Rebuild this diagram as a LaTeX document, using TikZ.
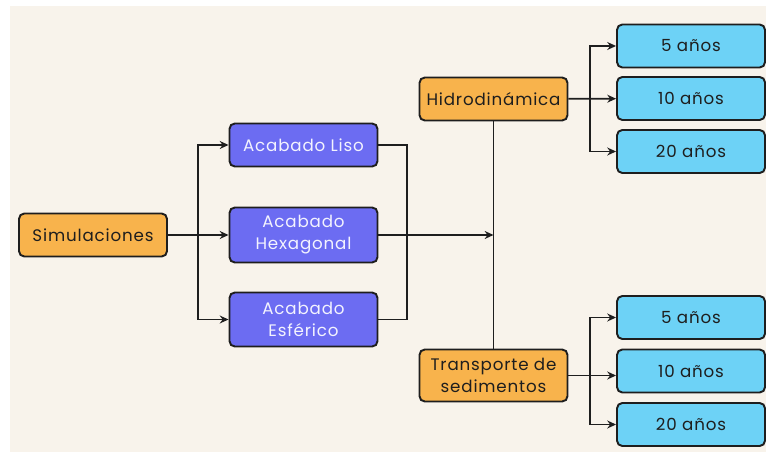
\documentclass[tikz,border=0pt]{standalone}
\usepackage{fontspec}
\setmainfont{Poppins}[LetterSpace=5]
\usetikzlibrary{arrows.meta, positioning}

\definecolor{cream}{HTML}{F8F3EB}
\definecolor{boxorange}{HTML}{F8B34C}
\definecolor{boxpurple}{HTML}{6C6CF2}
\definecolor{boxblue}{HTML}{6DD2F6}
\definecolor{inkdark}{HTML}{1E1E1E}

\begin{document}
\begin{tikzpicture}[
    x=0.02cm, y=-0.02cm,
    >={Stealth[length=5pt, width=4.5pt]},
    box/.style={draw=inkdark, line width=1.1pt, rounded corners=3pt,
                inner sep=2pt, align=center, font=\fontsize{9.5}{12.5}\selectfont,
                minimum width=2.96cm},
    orangebox/.style={box, fill=boxorange, text=inkdark},
    purplebox/.style={box, fill=boxpurple, text=white!92!boxpurple},
    bluebox/.style={box, fill=boxblue, text=inkdark, minimum height=0.86cm},
    link/.style={draw=inkdark, line width=0.95pt}
  ]
  \useasboundingbox (0,0) rectangle (766,455);
  \fill[white] (0,0) rectangle (766,455);
  \fill[cream] (10,6) rectangle (766,452);

  % source and finishes
  \node[orangebox, minimum height=0.86cm] (sim) at (93,235) {Simulaciones};
  \node[purplebox, minimum height=0.86cm] (liso) at (303.5,145) {Acabado Liso};
  \node[purplebox, minimum height=1.1cm] (hexa) at (303.5,235) {Acabado\\Hexagonal};
  \node[purplebox, minimum height=1.08cm] (esfe) at (303.5,319.5) {Acabado\\Esférico};

  % studies
  \node[orangebox, minimum height=0.86cm] (hidro) at (493.5,99) {Hidrodinámica};
  \node[orangebox, minimum height=1.04cm] (trans) at (493.5,375.5) {Transporte de\\sedimentos};

  % horizons
  \node[bluebox] (h5) at (691,46) {5 años};
  \node[bluebox] (h10) at (691,98.5) {10 años};
  \node[bluebox] (h20) at (691,151.5) {20 años};
  \node[bluebox] (t5) at (691,317.5) {5 años};
  \node[bluebox] (t10) at (691,371) {10 años};
  \node[bluebox] (t20) at (691,424.5) {20 años};

  \coordinate (split1) at (198,235);
  \coordinate (join1) at (407,235);
  \coordinate (split2) at (590,99);
  \coordinate (split3) at (590,375.5);

  \draw[link, ->] (sim) -- (hexa);
  \draw[link, ->] (split1) |- (liso);
  \draw[link, ->] (split1) |- (esfe);

  \draw[link] (liso) -| (join1);
  \draw[link] (esfe) -| (join1);
  \draw[link, ->] (hexa.east |- join1) -- (hidro |- join1);
  \draw[link] (hidro) -- (trans);

  \draw[link, ->] (hidro) -- (h10);
  \draw[link, ->] (split2) |- (h5);
  \draw[link, ->] (split2) |- (h20);

  \draw[link, ->] (trans.east |- split3) -- (t10.west |- split3);
  \draw[link, ->] (split3) |- (t5);
  \draw[link, ->] (split3) |- (t20);
\end{tikzpicture}
\end{document}
